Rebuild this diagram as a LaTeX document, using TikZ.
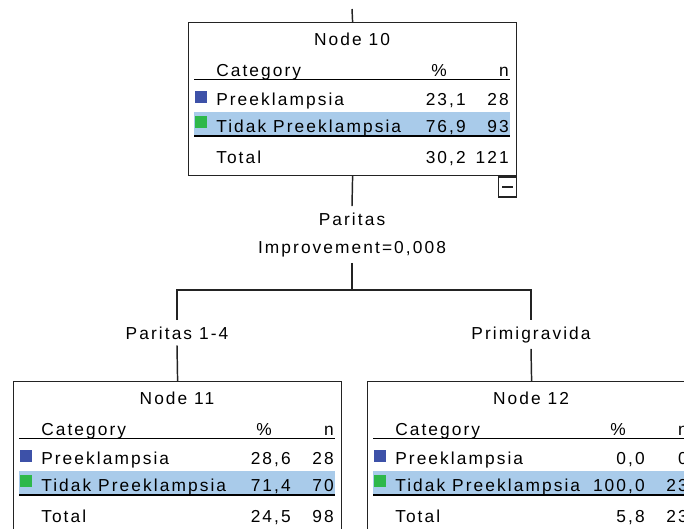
\documentclass[tikz,border=0pt]{standalone}
\usepackage{xcolor}
\usepackage{fontspec}
\setmainfont{Liberation Sans}[LetterSpace=12]
\usepackage{tikz}

\definecolor{catblue}{RGB}{61,81,168}
\definecolor{catgreen}{RGB}{46,184,74}
\definecolor{rowhl}{RGB}{169,203,234}
\definecolor{framegray}{RGB}{35,35,35}

\tikzset{
  treebox/.style={draw=framegray, line width=0.9pt, anchor=north west, minimum width=246pt, minimum height=114.75pt, inner sep=0pt},
  cell/.style={inner sep=0pt, anchor=base, font=\fontsize{13}{15}\selectfont},
  splitlbl/.style={inner xsep=2pt, inner ysep=4.5pt, anchor=base, font=\fontsize{13}{15}\selectfont},
  tablerule/.style={draw=black, line width=0.8pt},
  edge/.style={draw=framegray, line width=1.1pt},
  collapsebox/.style={draw=framegray, line width=1pt, anchor=north east, minimum width=13.5pt, minimum height=15pt, inner sep=0pt}
}

% one tree node: number, left, top, then % and n of each row and the total
\newcommand{\treenode}[9]{%
  \begin{scope}[shift={(#2,#3)}]
    \fill[rowhl] (6,89.5) rectangle (322,114);
    \node[treebox] (n#1) at (0,0) {};
    \node[cell] (n#1title) at (164,23.5) {Node #1};
    \node[cell, anchor=base west] (n#1cat) at (28,54.5) {Category};
    \node[cell] (n#1pcth) at (251,54.5) {\%};
    \node[cell, anchor=base east] (n#1nh) at (321,54.5) {n};
    \draw[tablerule] (6,57.5) -- (322,57.5);
    \fill[catblue] (7,69) rectangle (19,81);
    \node[cell, anchor=base west] (n#1rowa) at (28,83.5) {Preeklampsia};
    \node[cell, anchor=base east] (n#1pcta) at (278,83.5) {#4};
    \node[cell, anchor=base east] (n#1na) at (321,83.5) {#5};
    \fill[catgreen] (7,94) rectangle (19,106);
    \node[cell, anchor=base west] (n#1rowb) at (28,110) {Tidak Preeklampsia};
    \node[cell, anchor=base east] (n#1pctb) at (278,110) {#6};
    \node[cell, anchor=base east] (n#1nb) at (321,110) {#7};
    \draw[tablerule] (6,114) -- (322,114);
    \node[cell, anchor=base west] (n#1tot) at (28,141.5) {Total};
    \node[cell, anchor=base east] (n#1pctt) at (278,141.5) {#8};
    \node[cell, anchor=base east] (n#1nt) at (321,141.5) {#9};
  \end{scope}}

\begin{document}
\begin{tikzpicture}[x=0.75pt,y=0.75pt,yscale=-1,xscale=1]
  \useasboundingbox (0,0) rectangle (684,528);
  \clip (0,0) rectangle (684,528);

  \treenode{10}{188}{22}{23,1}{28}{76,9}{93}{30,2}{121}
  \treenode{11}{13}{381}{28,6}{28}{71,4}{70}{24,5}{98}
  \treenode{12}{367}{381}{0,0}{0}{100,0}{23}{5,8}{23}

  % incoming branch and collapse box
  \coordinate (in10) at (352,9);
  \draw[edge] (in10) -- (n10.north);
  \node[collapsebox] (c10) at (n10.south east) {};
  \draw[edge] ([xshift=-4pt]c10.center) -- ([xshift=4pt]c10.center);

  % split
  \node[splitlbl] (var10) at (352,225) {Paritas};
  \node[splitlbl] (imp10) at (352,253) {Improvement=0,008};
  \coordinate (fork10) at (352,290);
  \node[splitlbl] (lbl11) at (177,339) {Paritas 1-4};
  \node[splitlbl] (lbl12) at (531,339) {Primigravida};

  \draw[edge] (n10.south) -- (var10.north);
  \draw[edge] (imp10.south) -- (fork10);
  \draw[edge] (lbl11.north) -- (lbl11.north |- fork10) -- (lbl12.north |- fork10) -- (lbl12.north);
  \draw[edge] (lbl11.south) -- (n11.north);
  \draw[edge] (lbl12.south) -- (n12.north);
\end{tikzpicture}
\end{document}
